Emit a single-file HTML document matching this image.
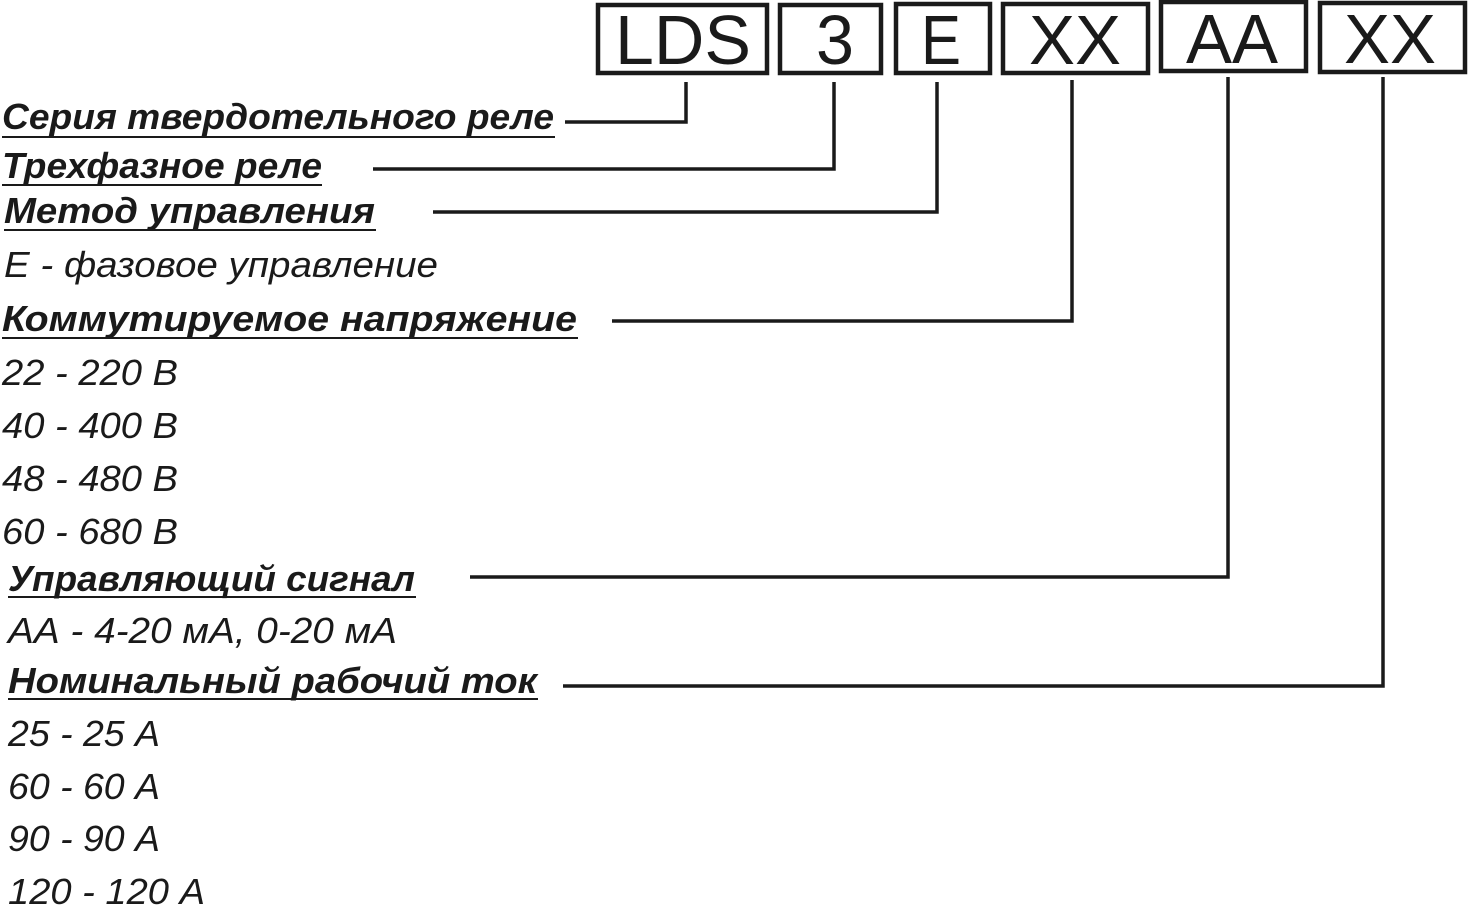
<!DOCTYPE html>
<html><head><meta charset="utf-8"><style>html,body{margin:0;padding:0;background:#fff;width:1469px;height:907px;overflow:hidden}</style></head>
<body>
<svg width="1469" height="907" viewBox="0 0 1469 907" xmlns="http://www.w3.org/2000/svg">
<g fill="none" stroke="#1a1a1a" stroke-width="4.5">
<rect x="598" y="5" width="169" height="68"/>
<rect x="780" y="5" width="101" height="68"/>
<rect x="896" y="4" width="94" height="69"/>
<rect x="1003" y="4" width="145" height="69"/>
<rect x="1161" y="2" width="145" height="69"/>
<rect x="1320" y="3" width="145" height="69"/>
</g>
<g font-family="Liberation Sans, sans-serif" font-size="70" fill="#1a1a1a" text-anchor="middle">
<text x="683" y="64" textLength="136" lengthAdjust="spacingAndGlyphs">LDS</text>
<text x="835" y="64" textLength="38" lengthAdjust="spacingAndGlyphs">3</text>
<text x="941" y="64" textLength="40" lengthAdjust="spacingAndGlyphs">E</text>
<text x="1075" y="64" textLength="92" lengthAdjust="spacingAndGlyphs">XX</text>
<text x="1232" y="63" textLength="92" lengthAdjust="spacingAndGlyphs">AA</text>
<text x="1390" y="63" textLength="92" lengthAdjust="spacingAndGlyphs">XX</text>
</g>
<g fill="none" stroke="#1a1a1a" stroke-width="3.5">
<polyline points="565,122 686,122 686,82"/>
<polyline points="373,169 834,169 834,82"/>
<polyline points="433,212 937,212 937,82"/>
<polyline points="612,321 1072,321 1072,80"/>
<polyline points="470,577 1228,577 1228,77"/>
<polyline points="563,686 1383,686 1383,77"/>
</g>
<g stroke="#1a1a1a" stroke-width="2">
<line x1="2" y1="137" x2="555" y2="137"/>
<line x1="2" y1="185" x2="322" y2="185"/>
<line x1="4" y1="230" x2="376" y2="230"/>
<line x1="2" y1="338" x2="578" y2="338"/>
<line x1="8" y1="597" x2="416" y2="597"/>
<line x1="8" y1="699" x2="538" y2="699"/>
</g>
<g font-family="Liberation Sans, sans-serif" font-style="italic" font-size="36" fill="#1a1a1a">
<g font-weight="bold">
<text x="2" y="129" textLength="552" lengthAdjust="spacingAndGlyphs">Серия твердотельного реле</text>
<text x="2" y="178" textLength="320" lengthAdjust="spacingAndGlyphs">Трехфазное реле</text>
<text x="4" y="223" textLength="371" lengthAdjust="spacingAndGlyphs">Метод управления</text>
<text x="2" y="331" textLength="575" lengthAdjust="spacingAndGlyphs">Коммутируемое напряжение</text>
<text x="8" y="591" textLength="407" lengthAdjust="spacingAndGlyphs">Управляющий сигнал</text>
<text x="8" y="693" textLength="529" lengthAdjust="spacingAndGlyphs">Номинальный рабочий ток</text>
</g>
<text x="4" y="277" textLength="434" lengthAdjust="spacingAndGlyphs">E - фазовое управление</text>
<text x="2" y="385" textLength="176" lengthAdjust="spacingAndGlyphs">22 - 220 В</text>
<text x="2" y="438" textLength="176" lengthAdjust="spacingAndGlyphs">40 - 400 В</text>
<text x="2" y="491" textLength="176" lengthAdjust="spacingAndGlyphs">48 - 480 В</text>
<text x="2" y="544" textLength="176" lengthAdjust="spacingAndGlyphs">60 - 680 В</text>
<text x="8" y="643" textLength="389" lengthAdjust="spacingAndGlyphs">АА - 4-20 мА, 0-20 мА</text>
<text x="8" y="746" textLength="152" lengthAdjust="spacingAndGlyphs">25 - 25 А</text>
<text x="8" y="799" textLength="152" lengthAdjust="spacingAndGlyphs">60 - 60 А</text>
<text x="8" y="851" textLength="152" lengthAdjust="spacingAndGlyphs">90 - 90 А</text>
<text x="8" y="904" textLength="197" lengthAdjust="spacingAndGlyphs">120 - 120 А</text>
</g>
</svg>
</body></html>
